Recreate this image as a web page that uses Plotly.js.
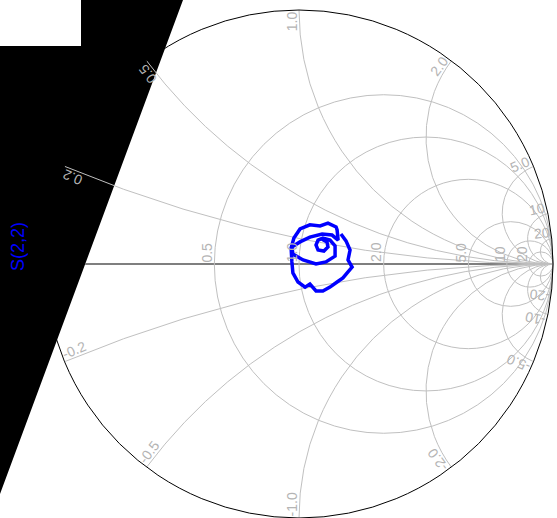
<!DOCTYPE html>
<html>
<head>
<meta charset="utf-8">
<script src="https://cdn.plot.ly/plotly-3.0.1.min.js"></script>
<style>html,body{margin:0;padding:0;background:#fff;}#chart{width:557px;height:518px;}</style>
</head>
<body>
<div id="chart"></div>
<script>
// S(2,2) reflection coefficient, real and imaginary parts
var s22Re = [0.091,0.110,0.114,0.098,0.075,0.067,0.075,0.094,0.122,0.142,0.142,0.106,0.067,0.016,-0.024,-0.028,0.004,0.043,0.091,0.130,0.154,0.150,0.146,0.114,0.083,0.043,0.004,-0.020,-0.031,-0.028,-0.024,-0.004,0.024,0.043,0.067,0.094,0.122,0.150,0.173,0.193,0.209,0.193,0.201,0.185,0.165];
var s22Im = [0.098,0.087,0.067,0.051,0.055,0.075,0.094,0.102,0.094,0.071,0.031,0.008,0.000,0.016,0.039,0.067,0.087,0.106,0.118,0.114,0.094,0.134,0.146,0.161,0.150,0.154,0.138,0.102,0.063,0.008,-0.035,-0.071,-0.091,-0.079,-0.106,-0.106,-0.091,-0.071,-0.055,-0.031,-0.012,0.016,0.055,0.091,0.118];
var traceName = 'S(2,2)';
var realTicks = [0.5, 1, 2, 5, 10, 20];
var imagTicks = [-20, -10, -5, -2, -1, -0.5, -0.2, 0.2, 0.5, 1, 2, 5, 10, 20];

// convert reflection coefficient to normalized impedance z = (1+G)/(1-G)
var zRe = [], zIm = [];
for (var i = 0; i < s22Re.length; i++) {
  var a = s22Re[i], b = s22Im[i];
  var den = (1 - a) * (1 - a) + b * b;
  zRe.push((1 - a * a - b * b) / den);
  zIm.push((2 * b) / den);
}

var ML = 45, MR = 4, MT = 10, MB = 0, W = 557, H = 518;
var PW = W - ML - MR, PH = H - MT - MB;
var CX = ML + PW / 2, CY = MT + PH / 2, RAD = Math.min(PW, PH) / 2;
function px2x(p) { return (p - ML) / PW; }
function py2y(p) { return (H - MB - p) / PH; }

var FS = 14;
var labelColor = '#b4b4b4';
var fontFam = 'Liberation Sans, Arial, sans-serif';
function fmt(v) { return Math.abs(v) < 10 ? v.toFixed(1) : String(v); }
function textW(s) {
  var w = 0;
  for (var k = 0; k < s.length; k++) {
    var c = s[k];
    w += (c === '.') ? 0.278 : (c === '-') ? 0.333 : 0.556;
  }
  return w * FS;
}

var annotations = [];
// imaginary axis labels along the outer circle
imagTicks.forEach(function (x) {
  var d = x * x + 1;
  var gx = (x * x - 1) / d, gy = 2 * x / d;
  var ccx = 1, ccy = 1 / x;
  var rx = gx - ccx, ry = gy - ccy, rl = Math.hypot(rx, ry);
  var nx = rx / rl, ny = ry / rl;
  var tx = -ny, ty = nx;
  if (tx * (-gx) + ty * (-gy) < 0) { tx = -tx; ty = -ty; }
  var Px = CX + RAD * gx, Py = CY - RAD * gy;
  var tsx = tx, tsy = -ty, nsx = nx, nsy = -ny;
  var s = fmt(x), w = textW(s);
  var along = w / 2 + 1.5, norm = 7;
  var cx = Px + tsx * along + nsx * norm;
  var cy = Py + tsy * along + nsy * norm;
  var dx = x > 0 ? -tsx : tsx, dy = x > 0 ? -tsy : tsy;
  var ang = Math.atan2(dy, dx) * 180 / Math.PI;
  annotations.push({
    text: s, xref: 'paper', yref: 'paper', x: px2x(cx), y: py2y(cy),
    xanchor: 'center', yanchor: 'middle', showarrow: false, textangle: ang,
    font: {color: labelColor, size: FS, family: fontFam}
  });
});
// real axis labels
realTicks.forEach(function (r) {
  var g = (r - 1) / (r + 1);
  var Px = CX + RAD * g;
  var s = fmt(r), w = textW(s);
  annotations.push({
    text: s, xref: 'paper', yref: 'paper', x: px2x(Px - 7), y: py2y(CY - 2 - w / 2),
    xanchor: 'center', yanchor: 'middle', showarrow: false, textangle: -90,
    font: {color: labelColor, size: FS, family: fontFam}
  });
});
annotations.push({
  text: traceName, xref: 'paper', yref: 'paper',
  x: px2x(18), y: py2y(247), xanchor: 'center', yanchor: 'middle',
  showarrow: false, textangle: -90,
  font: {color: 'rgb(0,0,255)', size: 18, family: fontFam}
});

var trace = {
  type: 'scattersmith',
  mode: 'lines',
  real: zRe,
  imag: zIm,
  name: traceName,
  line: {color: 'rgb(0,0,255)', width: 3.5},
  showlegend: false
};

// edge of the dark band where it meets the real axis
var bandX = 183 * (1 - CY / 494);

var layout = {
  width: W, height: H,
  margin: {l: ML, r: MR, t: MT, b: MB},
  paper_bgcolor: '#fff',
  showlegend: false,
  smith: {
    bgcolor: 'rgba(0,0,0,0)',
    realaxis: {
      tickvals: realTicks,
      showticklabels: false,
      showline: false,
      ticks: '',
      gridcolor: '#c0c0c0'
    },
    imaginaryaxis: {
      tickvals: imagTicks,
      showticklabels: false,
      ticks: '',
      gridcolor: '#c0c0c0',
      linecolor: '#000'
    }
  },
  shapes: [{
    type: 'path', xref: 'paper', yref: 'paper', layer: 'below',
    path: 'M' + px2x(81) + ',' + py2y(0) + ' L' + px2x(183) + ',' + py2y(0) +
          ' L' + px2x(0) + ',' + py2y(494) + ' L' + px2x(0) + ',' + py2y(46) +
          ' L' + px2x(81) + ',' + py2y(46) + ' Z',
    fillcolor: '#000', line: {width: 0}
  }, {
    type: 'line', xref: 'paper', yref: 'paper', layer: 'below',
    x0: px2x(bandX), x1: px2x(CX + RAD), y0: py2y(CY), y1: py2y(CY),
    line: {color: '#555', width: 1.3}
  }],
  annotations: annotations
};

Plotly.newPlot('chart', [trace], layout, {displayModeBar: false, staticPlot: true});
</script>
</body>
</html>
